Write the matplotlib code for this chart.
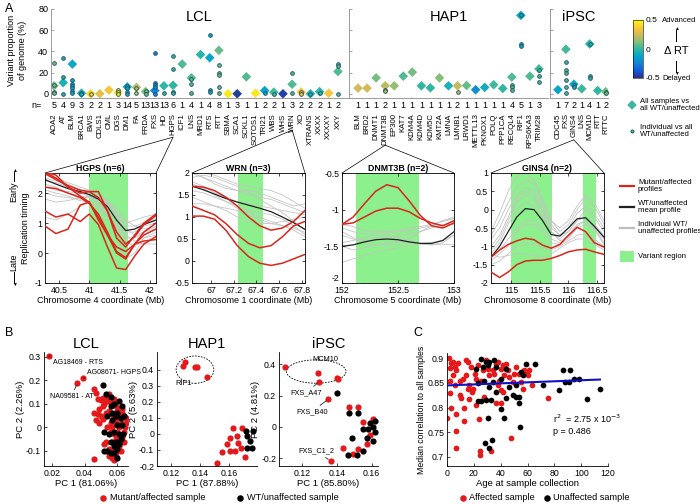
import numpy as np
import matplotlib.pyplot as plt
from matplotlib.colors import LinearSegmentedColormap, Normalize
from matplotlib.cm import ScalarMappable
from matplotlib.patches import ConnectionPatch, Ellipse, Rectangle
from matplotlib.lines import Line2D

plt.rcParams['font.family'] = ['Liberation Sans', 'DejaVu Sans']
plt.rcParams['axes.linewidth'] = 0.6
plt.rcParams['xtick.direction'] = 'in'
plt.rcParams['ytick.direction'] = 'in'
plt.rcParams['xtick.major.size'] = 2
plt.rcParams['ytick.major.size'] = 2
plt.rcParams['xtick.major.width'] = 0.5
plt.rcParams['ytick.major.width'] = 0.5
plt.rcParams['xtick.major.pad'] = 2
plt.rcParams['ytick.major.pad'] = 2

# ---------------- panel A top: variant proportion ----------------
lcl_names = ['AOA2', 'AT', 'BLM', 'BRCA1', 'BWS', 'CDLS1', 'CML', 'DGS', 'DM1', 'FA', 'FRDA', 'FXS',
             'HD', 'HGPS', 'ICF1', 'LNS', 'MRD1', 'RTS', 'RTT', 'SBMA', 'SCA1', 'SCKL1', 'SOTOS1',
             'TRI21', 'WBS', 'WHS', 'WRN', 'XO', 'XTRANS', 'XXXX', 'XXXXY', 'XXY']
lcl_n = [5, 4, 9, 3, 2, 2, 1, 3, 14, 5, 13, 13, 13, 6, 1, 4, 1, 4, 8, 1, 3, 1, 1, 2, 2, 1, 3, 2, 2, 2, 1, 2]
lcl_all = [7.5, 10.5, 28, 0.5, 0, 0, 3.5, 1, 6.5, 6, 2, 3, 7.5, 8, 28, 15, 37, 34, 41, 0, 0, 16, 0.5,
           3, 1.5, 0, 9, 1.5, 0, 2, 0.5, 21]
lcl_rt = [0.1, -0.05, -0.1, -0.05, 0.4, 0.3, 0.35, 0.45, -0.1, 0.2, 0.1, -0.25, 0.0, 0.0, 0.05, 0.05,
          -0.02, -0.12, 0.08, 0.45, -0.45, 0.05, 0.45, -0.12, 0.03, -0.45, 0.05, 0.35, -0.05, 0.0, 0.35, 0.05]
lcl_ind = [[29, 8, 2, 0.5], [34, 16, 0], [13, 9, 7, 5, 3, 1], [1, 0], [0], [], [], [4, 2, 0], [7, 5, 2, 0],
           [5, 1], [3, 0], [38, 10, 8, 6, 0], [1], [36, 23, 2, 1], [], [14, 9, 1], [], [55, 4, 2],
           [27, 20, 18, 6, 1], [], [0], [], [], [1], [0], [], [20, 1], [2, 0], [0], [1], [], [28, 26, 0]]

hap_names = ['BLM', 'BRD2', 'DNMT1', 'DNMT3B', 'EP300', 'KAT7', 'KDM4A', 'KDM4D', 'KDM5C', 'KMT2A',
             'LMNA', 'LMNB1', 'LRWD1', 'METTL13', 'PKNOX1', 'POLQ', 'PPP1CA', 'RECQL4', 'RIF1',
             'RPS6KA3', 'TRIM28']
hap_n = [1, 1, 1, 2, 1, 1, 1, 1, 1, 1, 1, 2, 1, 1, 1, 1, 1, 4, 5, 1, 3]
hap_all = [5.3, 5.3, 15, 7.5, 7.5, 16.6, 20.4, 7.5, 5.6, 15, 7.5, 7.5, 7.8, 3.8, 6, 8.5, 5, 15.7, 74,
           16.6, 23.5]
hap_rt = [0.25, 0.25, 0.1, 0.2, 0.15, 0.05, 0.1, 0.0, 0.0, 0.12, -0.05, 0.22, 0.08, -0.2, -0.08, 0.03,
          0.0, 0.05, -0.1, 0.05, 0.03]
hap_ind = [[], [], [], [4, 2.5], [], [], [], [], [], [], [], [2], [], [], [], [], [], [8, 6, 4],
           [74, 47, 45], [], [22, 17, 11]]

ips_names = ['CDC45', 'FXS', 'GINS4', 'LNS', 'MCM10', 'RTT', 'RTTC']
ips_n = [1, 7, 2, 1, 4, 1, 2]
ips_all = [3.8, 42, 9, 4.7, 47, 3, 2]
ips_rt = [-0.12, 0.03, -0.1, 0.02, -0.02, 0.0, 0.1]
ips_ind = [[], [30, 22, 20, 13, 6, 1], [8, 6], [], [47, 17, 15], [], [2, 1]]

# ---------------- panel A bottom: replication timing profiles ----------------
hgps_x = [40.27, 40.45, 40.65, 40.85, 41.0, 41.15, 41.3, 41.45, 41.6, 41.75, 41.9, 42.1]
hgps_red = [[2.65, 2.45, 2.25, 2.1, 2.05, 1.85, 1.4, 0.7, 0.3, 0.55, 0.95, 1.25],
            [2.7, 2.6, 2.2, 2.0, 2.05, 2.05, 1.4, 0.5, 0.2, 0.6, 1.0, 1.3],
            [2.2, 2.15, 2.0, 1.85, 1.65, 1.3, 0.7, 0.05, -0.15, 0.3, 0.7, 1.0],
            [1.4, 1.2, 1.3, 1.05, 1.3, 0.95, 0.2, -0.5, -0.55, -0.1, 0.3, 0.55],
            [0.9, 0.65, 0.8, 1.6, 1.7, 1.2, 0.6, 0.0, -0.2, 0.3, 0.6, 0.8],
            [2.7, 2.5, 2.2, 1.9, 1.7, 1.1, 0.6, 0.2, 0.05, 0.3, 0.4, 0.45]]
hgps_black = [2.45, 2.3, 2.15, 2.05, 1.95, 1.8, 1.55, 1.1, 0.75, 0.8, 0.95, 1.1]
hgps_grey = [[2.5, 2.4, 2.3, 2.1, 2.0, 1.9, 1.7, 1.3, 0.9, 0.9, 1.0, 1.15],
             [2.3, 2.2, 2.0, 1.9, 1.85, 1.7, 1.4, 1.0, 0.7, 0.7, 0.9, 1.0],
             [2.0, 1.9, 1.85, 1.8, 1.9, 1.8, 1.6, 1.2, 0.8, 0.6, 0.7, 0.9],
             [2.6, 2.5, 2.35, 2.2, 2.1, 2.0, 1.75, 1.35, 1.0, 1.1, 1.2, 1.3],
             [1.8, 1.7, 1.75, 1.85, 1.9, 1.75, 1.3, 0.8, 0.5, 0.5, 0.7, 0.8],
             [2.2, 2.1, 2.05, 2.0, 1.95, 1.85, 1.65, 1.3, 0.4, 0.2, 0.5, 0.7],
             [1.2, 1.1, 1.3, 1.55, 1.7, 1.6, 1.2, 0.6, -0.2, 0.0, 0.5, 0.6],
             [2.4, 2.35, 2.2, 2.0, 1.9, 1.8, 1.7, 1.5, 1.1, 0.9, 0.8, 0.85],
             [2.1, 2.0, 1.9, 1.75, 1.7, 1.5, 1.2, 0.9, 0.6, 0.4, 0.3, 0.3]]

wrn_x = [66.83, 66.93, 67.03, 67.13, 67.23, 67.33, 67.43, 67.53, 67.63, 67.73, 67.83]
wrn_red = [[1.7, 1.68, 1.6, 1.45, 1.25, 1.0, 0.8, 0.7, 0.75, 0.9, 1.15],
           [1.25, 1.15, 1.05, 0.85, 0.6, 0.4, 0.3, 0.35, 0.55, 0.8, 0.9],
           [1.02, 1.02, 0.95, 0.7, 0.35, 0.1, -0.05, -0.1, -0.05, 0.05, 0.15]]
wrn_black = [1.7, 1.62, 1.52, 1.42, 1.34, 1.27, 1.2, 1.12, 1.0, 0.87, 0.72]
wrn_grey = [[2.0, 1.9, 1.8, 1.7, 1.6, 1.5, 1.45, 1.4, 1.3, 1.2, 1.1],
            [1.9, 1.95, 1.9, 1.8, 1.7, 1.55, 1.4, 1.25, 1.1, 0.9, 0.7],
            [1.8, 1.7, 1.55, 1.45, 1.35, 1.3, 1.25, 1.2, 1.15, 1.1, 1.05],
            [1.6, 1.55, 1.45, 1.35, 1.25, 1.15, 1.1, 1.05, 0.95, 0.8, 0.6],
            [1.45, 1.35, 1.25, 1.2, 1.15, 1.1, 1.0, 0.9, 0.8, 0.7, 0.55],
            [2.0, 2.0, 1.95, 1.85, 1.75, 1.7, 1.65, 1.6, 1.5, 1.35, 1.2],
            [1.3, 1.3, 1.25, 1.15, 1.0, 0.9, 0.85, 0.85, 0.9, 0.95, 1.0],
            [1.75, 1.65, 1.5, 1.35, 1.2, 1.05, 0.95, 0.85, 0.8, 0.75, 0.65],
            [2.0, 1.9, 1.75, 1.65, 1.6, 1.6, 1.55, 1.45, 1.35, 1.25, 1.3]]

dnmt_x = [152.0, 152.1, 152.2, 152.3, 152.4, 152.5, 152.6, 152.7, 152.8, 152.9, 153.0]
dnmt_red = [[-1.2, -1.1, -0.92, -0.75, -0.66, -0.7, -0.88, -1.08, -1.22, -1.25, -1.18],
            [-1.2, -1.18, -1.1, -1.02, -0.98, -0.98, -1.03, -1.12, -1.18, -1.22, -1.15]]
dnmt_black = [-1.5, -1.48, -1.44, -1.41, -1.4, -1.41, -1.44, -1.46, -1.46, -1.42, -1.3]
dnmt_grey = [[-1.25, -1.3, -1.33, -1.33, -1.32, -1.3, -1.28, -1.25, -1.22, -1.15, -1.1],
             [-1.3, -1.38, -1.42, -1.4, -1.38, -1.36, -1.33, -1.3, -1.25, -1.2, -1.2],
             [-1.5, -1.55, -1.52, -1.48, -1.45, -1.43, -1.45, -1.47, -1.48, -1.47, -1.48],
             [-1.72, -1.67, -1.62, -1.58, -1.55, -1.52, -1.48, -1.46, -1.45, -1.42, -1.35],
             [-1.35, -1.4, -1.45, -1.48, -1.48, -1.46, -1.4, -1.3, -1.22, -1.15, -1.12],
             [-1.45, -1.42, -1.38, -1.36, -1.36, -1.38, -1.42, -1.46, -1.48, -1.45, -1.35],
             [-1.2, -1.23, -1.28, -1.3, -1.3, -1.28, -1.25, -1.23, -1.2, -1.16, -1.12]]

gins_x = [114.65, 114.8, 114.95, 115.1, 115.25, 115.4, 115.55, 115.7, 115.85, 116.0, 116.15, 116.3,
          116.45, 116.62]
gins_red = [[-1.3, -1.1, -0.95, -0.85, -0.78, -0.82, -0.97, -1.05, -0.95, -0.7, -0.48, -0.6, -0.9, -1.02],
            [-1.7, -1.85, -1.7, -1.5, -1.4, -1.38, -1.38, -1.33, -1.25, -1.15, -1.1, -1.08, -1.15, -1.22]]
gins_black = [-1.3, -1.0, -0.6, -0.2, 0.03, 0.0, -0.3, -0.68, -0.72, -0.5, -0.25, -0.22, -0.45, -0.75]
gins_grey = [[-0.6, -0.1, 0.5, 0.9, 1.0, 0.8, 0.3, -0.3, -0.5, -0.3, 0.1, 0.4, 0.2, -0.3],
             [-1.0, -0.7, -0.2, 0.3, 0.5, 0.4, 0.0, -0.5, -0.7, -0.5, -0.1, 0.1, -0.1, -0.5],
             [-1.2, -0.9, -0.4, 0.0, 0.2, 0.1, -0.2, -0.6, -0.8, -0.6, -0.3, -0.2, -0.4, -0.7],
             [-0.8, -0.5, 0.0, 0.4, 0.6, 0.5, 0.1, -0.4, -0.7, -0.6, -0.3, 0.0, -0.2, -0.6],
             [-1.3, -1.1, -0.8, -0.5, -0.3, -0.3, -0.5, -0.8, -0.9, -0.7, -0.4, -0.3, -0.5, -0.8],
             [-1.1, -0.8, -0.3, 0.2, 0.4, 0.3, -0.1, -0.6, -0.85, -0.75, -0.45, -0.3, -0.5, -0.9],
             [-1.5, -1.4, -1.2, -1.0, -0.9, -0.95, -1.05, -1.1, -1.0, -0.85, -0.7, -0.65, -0.8, -1.0],
             [-0.7, -0.3, 0.2, 0.6, 0.8, 0.7, 0.2, -0.3, -0.6, -0.4, 0.0, 0.3, 0.1, -0.4],
             [-1.4, -1.2, -1.0, -0.6, -0.4, -0.4, -0.6, -0.9, -0.95, -0.8, -0.5, -0.4, -0.55, -0.95],
             [-1.2, -1.3, -1.25, -1.2, -1.2, -1.25, -1.3, -1.2, -1.05, -0.9, -0.8, -0.8, -0.95, -1.1]]

# ---------------- panel B: PCA ----------------
lcl_red_x = [0.0182, 0.0393, 0.0355, 0.046, 0.047, 0.048, 0.050, 0.052, 0.054, 0.056, 0.057, 0.059, 0.061,
             0.062, 0.063, 0.064, 0.065, 0.065, 0.0645, 0.064, 0.063, 0.062, 0.061, 0.060, 0.059, 0.057,
             0.055, 0.058, 0.046, 0.048, 0.050, 0.047, 0.049, 0.051, 0.053, 0.055, 0.057, 0.058, 0.056,
             0.054, 0.056, 0.058, 0.057, 0.059, 0.060, 0.061, 0.062, 0.060, 0.061, 0.053, 0.055, 0.057,
             0.059, 0.046, 0.052, 0.051, 0.053, 0.055, 0.051, 0.049, 0.058, 0.060, 0.063, 0.062, 0.064,
             0.057, 0.059]
lcl_red_y = [0.303, 0.209, 0.189, 0.165, 0.145, 0.12, 0.115, 0.10, 0.11, 0.105, 0.095, 0.09, 0.08, 0.07,
             0.06, 0.05, 0.04, 0.02, 0.0, -0.02, -0.04, -0.06, -0.08, -0.10, -0.12, -0.13, -0.12, -0.14,
             0.06, 0.055, 0.05, 0.03, 0.02, 0.035, 0.06, 0.07, 0.055, 0.04, 0.02, 0.0, -0.02, -0.03,
             -0.06, -0.05, -0.02, 0.0, 0.02, 0.04, 0.06, -0.06, -0.09, -0.10, -0.08, -0.135, -0.07, 0.09,
             0.13, 0.14, 0.125, 0.08, 0.12, 0.07, 0.08, -0.1, -0.06, 0.0, 0.02]
lcl_blk_x = [0.051, 0.053, 0.056, 0.058, 0.060, 0.062, 0.063, 0.0635, 0.062, 0.061, 0.060, 0.058, 0.056,
             0.054, 0.052, 0.052, 0.056, 0.059, 0.061, 0.057, 0.059, 0.060, 0.058, 0.055, 0.064, 0.063,
             0.061, 0.057, 0.054, 0.056, 0.060, 0.058]
lcl_blk_y = [0.18, 0.14, 0.13, 0.10, 0.06, 0.04, 0.01, -0.03, -0.05, -0.07, -0.09, -0.11, -0.11, -0.10,
             -0.10, -0.02, -0.06, -0.06, -0.03, 0.03, 0.05, 0.01, -0.02, -0.03, 0.05, 0.09, 0.11, 0.06,
             0.05, 0.09, -0.13, -0.08]

hap_red_x = [0.1277, 0.1293, 0.136, 0.1374, 0.1443, 0.1512, 0.1546, 0.1585, 0.1603, 0.1626, 0.1654, 0.166,
             0.1684, 0.1677, 0.1707, 0.1638, 0.1603]
hap_red_y = [0.425, 0.445, 0.418, 0.414, 0.356, -0.18, -0.11, -0.066, -0.025, 0.038, -0.014, -0.056,
             0.038, -0.087, -0.146, -0.104, -0.108]
hap_blk_x = [0.1719, 0.1741, 0.1719, 0.1753, 0.1764, 0.1714]
hap_blk_y = [-0.014, -0.045, -0.087, -0.087, 0.017, 0.017]

ips_red_x = [0.1104, 0.1295, 0.140, 0.1409, 0.130, 0.1352, 0.1365, 0.147, 0.152, 0.1548, 0.159, 0.1571,
             0.1523, 0.1495, 0.1437, 0.1607]
ips_red_y = [0.387, 0.345, 0.315, 0.31, 0.289, 0.178, -0.218, 0.127, 0.127, 0.031, -0.051, -0.107,
             -0.14, -0.173, -0.133, 0.05]
ips_blk_x = [0.140, 0.147, 0.152, 0.1552, 0.158, 0.159, 0.1607, 0.1619, 0.1571, 0.1548, 0.1514, 0.1466,
             0.1485, 0.1619, 0.1607]
ips_blk_y = [0.215, 0.089, 0.089, -0.013, -0.013, 0.027, 0.0, 0.04, -0.073, -0.151, -0.178, -0.178,
             -0.07, -0.03, -0.09]

# ---------------- panel C: correlation vs age ----------------
aff_age = [0, 2, 2, 3.2, 4.4, 5.7, 6.9, 8.1, 3.2, 6.9, 6.9, 6.9, 9.4, 10.6, 13, 13, 14.3, 14.3, 15.5,
           16.7, 18, 19.2, 20.5, 21.7, 22.9, 24.2, 24.9, 24.9, 26.7, 27.9, 29.1, 30.4, 32.8, 34, 36.5,
           37.7, 39, 40.2, 41.5, 42.7, 45.2, 47.7, 48.9, 51.4, 53.8, 56.3, 58.8, 60, 63.7, 75.6, 1.5,
           2.5, 4.4, 5.7, 9.4, 11.8, 15.5, 16.7, 18.7, 21.7, 25.4, 31.6, 35.3, 37.7, 40.2, 41.5, 44,
           46.4, 50.1, 55, 57.5, 61.2, 40.2, 36.5]
aff_cor = [0.778, 0.853, 0.83, 0.89, 0.893, 0.883, 0.876, 0.89, 0.80, 0.786, 0.752, 0.718, 0.826, 0.82,
           0.80, 0.773, 0.896, 0.866, 0.838, 0.818, 0.883, 0.838, 0.869, 0.806, 0.886, 0.776, 0.711,
           0.703, 0.876, 0.822, 0.896, 0.879, 0.711, 0.876, 0.889, 0.845, 0.855, 0.835, 0.886, 0.866,
           0.876, 0.737, 0.852, 0.883, 0.869, 0.838, 0.873, 0.866, 0.845, 0.82, 0.90, 0.88, 0.866,
           0.845, 0.855, 0.859, 0.893, 0.845, 0.831, 0.859, 0.855, 0.866, 0.869, 0.893, 0.879, 0.831,
           0.889, 0.862, 0.869, 0.852, 0.876, 0.876, 0.81, 0.81]
unaff_age = [25.4, 29.1, 31.6, 35.3, 26.7, 30.4, 36.5, 27.9, 31.6, 34, 36.5, 22.9, 25.4, 29.1, 32.8, 30.4,
             28.6, 31.6, 33.5, 40.2, 42.7, 44, 48.9, 51.4, 53.8, 53.8, 54.4, 51.4, 55, 58.8, 56.3, 65.7,
             71.9, 83.5, 86.5, 91.6, 88, 91, 94.7, 98.4, 104.6, 113.7, 44, 46.4, 40.2, 21.7, 22.9]
unaff_cor = [0.898, 0.893, 0.893, 0.896, 0.883, 0.886, 0.883, 0.855, 0.842, 0.852, 0.831, 0.813, 0.813,
             0.816, 0.816, 0.779, 0.728, 0.718, 0.733, 0.798, 0.779, 0.82, 0.826, 0.822, 0.822, 0.81,
             0.76, 0.845, 0.873, 0.889, 0.866, 0.889, 0.845, 0.835, 0.876, 0.876, 0.852, 0.852, 0.859,
             0.859, 0.818, 0.838, 0.879, 0.842, 0.859, 0.879, 0.849]
fit_age = [0, 114]
fit_cor = [0.845, 0.857]

# ---------------------------------------------------------------------
W, H = 700, 504
fig = plt.figure(figsize=(7, 5.04), dpi=100)

def add_ax(l, t, r, b):
    return fig.add_axes([l / W, 1 - b / H, (r - l) / W, (b - t) / H])

def ftext(x, y, s, **kw):
    return fig.text(x / W, 1 - y / H, s, **kw)

cmap = LinearSegmentedColormap.from_list('parula', ['#352a87', '#0f5cdd', '#1481d6', '#06a4ca',
                                                    '#2eb7a4', '#87bf77', '#d1bb59', '#fec832', '#f9fb0e'])
norm = Normalize(-0.5, 0.5)
RED = '#e4191c'


def top_panel(ax, names, ns, allv, rts, ind, title, xlim, ylabels):
    x = np.arange(1, len(names) + 1)
    ax.scatter(x, allv, marker='D', s=24, c=rts, cmap=cmap, norm=norm, edgecolor='none', zorder=2)
    for i, d in enumerate(ind):
        if d:
            ax.scatter([x[i]] * len(d), d, s=7, color=cmap(norm(rts[i])), edgecolor='#1d4b5e',
                       lw=0.6, zorder=3)
    ax.set_xlim(*xlim)
    ax.set_ylim(-4, 80)
    ax.set_yticks([0, 20, 40, 60, 80])
    ax.set_xticks(x)
    ax.set_xticklabels(names, rotation=90, fontsize=5.6, va='top')
    ax.tick_params(axis='x', length=0, pad=11)
    ax.tick_params(axis='y', labelsize=6.5, labelleft=ylabels, color='0.5')
    for s in ['top', 'right']:
        ax.spines[s].set_visible(False)
    for s in ['left', 'bottom']:
        ax.spines[s].set_color('0.55')
    for xi, n in zip(x, ns):
        ax.text(xi, -0.08, str(n), transform=ax.get_xaxis_transform(), ha='center', va='center',
                fontsize=6.5)
    ax.text(0.5, 0.99, title, transform=ax.transAxes, ha='center', va='top', fontsize=10.5)


ax_lcl = add_ax(51, 9, 348, 98)
top_panel(ax_lcl, lcl_names, lcl_n, lcl_all, lcl_rt, lcl_ind, 'LCL', (0.67, 33.1), True)
ax_hap = add_ax(349, 9, 548, 98)
top_panel(ax_hap, hap_names, hap_n, hap_all, hap_rt, hap_ind, 'HAP1', (0, 22), False)
ax_ips = add_ax(550, 9, 608, 98)
top_panel(ax_ips, ips_names, ips_n, ips_all, ips_rt, ips_ind, 'iPSC', (0, 7.3), False)

ftext(5, 9, 'A', fontsize=9, va='center')
ftext(17, 50, 'Variant proportion\nof genome (%)', rotation=90, ha='center', va='center', fontsize=6.5)
ftext(37, 105, 'n=', ha='center', va='center', fontsize=6.5)

# colorbar and legend for top panel
cax = add_ax(633, 20, 643, 78)
cb = fig.colorbar(ScalarMappable(norm=norm, cmap=cmap), cax=cax, ticks=[-0.5, 0, 0.5])
cb.ax.set_yticklabels(['-0.5', '0', '0.5'])
cb.ax.tick_params(labelsize=6, length=0, pad=2)
cb.outline.set_linewidth(0.4)
ftext(662, 21, 'Advanced', fontsize=5.5, va='center')
ftext(662, 79, 'Delayed', fontsize=5.5, va='center')
ftext(676, 51, '\u0394 RT', fontsize=8, ha='center', va='center')
fig.add_artist(Line2D([676 / W] * 2, [1 - 41 / H, 1 - 30 / H], color='k', lw=0.7))
fig.add_artist(Line2D([676 / W] * 2, [1 - 61 / H, 1 - 72 / H], color='k', lw=0.7))
ftext(676, 29, '\u25b2', fontsize=3.5, ha='center', va='center')
ftext(676, 73, '\u25bc', fontsize=3.5, ha='center', va='center')

key = fig.add_axes([0, 0, 1, 1], zorder=5)
key.set_xlim(0, W)
key.set_ylim(H, 0)
key.axis('off')
key.scatter([632], [105], marker='D', s=24, color=cmap(norm(0.02)), edgecolor='none')
ftext(640, 105, 'All samples vs\nall WT/unaffected', fontsize=5.5, va='center', linespacing=1.1)
key.scatter([632], [131], s=5, color=cmap(norm(0.02)), edgecolor='#1d4b5e', lw=0.6)
ftext(640, 131, 'Individual vs all\nWT/unaffected', fontsize=5.5, va='center', linespacing=1.1)

# ---------------- panel A bottom ----------------
GREEN = '#8cf08c'


def rt_panel(ax, xs, reds, black, greys, spans, xlim, ylim, xticks, yticks, title, xlabel):
    for s in spans:
        ax.axvspan(s[0], s[1], color=GREEN, lw=0, zorder=0)
    for g in greys:
        ax.plot(xs, g, color='#c4c4c4', lw=0.6, zorder=1)
    ax.plot(xs, black, color='#202020', lw=0.9, zorder=2)
    for r in reds:
        ax.plot(xs, r, color='#d9261c', lw=1.1, zorder=3)
    ax.set_xlim(*xlim)
    ax.set_ylim(*ylim)
    ax.set_xticks(xticks)
    ax.set_xticklabels([f'{t:g}' for t in xticks])
    ax.set_yticks(yticks)
    ax.set_yticklabels([f'{t:g}' for t in yticks])
    ax.tick_params(labelsize=6.3, top=True, right=True)
    ax.set_title(title, fontsize=6.3, fontweight='bold', pad=1.5)
    ax.set_xlabel(xlabel, fontsize=6.5, labelpad=1)


ax_hg = add_ax(45, 173, 156, 283)
rt_panel(ax_hg, hgps_x, hgps_red, hgps_black, hgps_grey, [(41.0, 41.64)], (40.27, 42.1), (-1, 2.67),
         [40.5, 41, 41.5, 42], [-1, 0, 1, 2], 'HGPS (n=6)', 'Chromosome 4 coordinate (Mb)')
ax_wr = add_ax(192, 173, 305, 283)
rt_panel(ax_wr, wrn_x, wrn_red, wrn_black, wrn_grey, [(67.24, 67.46)], (66.83, 67.83), (-0.5, 2),
         [67, 67.2, 67.4, 67.6, 67.8], [-0.5, 0, 0.5, 1, 1.5, 2], 'WRN (n=3)',
         'Chromosome 1 coordinate (Mb)')
ax_dn = add_ax(342, 173, 454, 283)
rt_panel(ax_dn, dnmt_x, dnmt_red, dnmt_black, dnmt_grey, [(152.125, 152.69)], (152, 153), (-2, -0.5),
         [152, 152.5, 153], [-2, -1.5, -1, -0.5], 'DNMT3B (n=2)', 'Chromosome 5 coordinate (Mb)')
ax_dn.get_yticklabels()[0].set_va('bottom')
ax_gi = add_ax(491, 173, 604, 283)
rt_panel(ax_gi, gins_x, gins_red, gins_black, gins_grey, [(115.0, 115.72), (116.26, 116.48)],
         (114.65, 116.62), (-2, 1), [115, 115.5, 116, 116.5], [-2, -1.5, -1, -0.5, 0, 0.5, 1],
         'GINS4 (n=2)', 'Chromosome 8 coordinate (Mb)')

ftext(25, 228, 'Replication timing', rotation=90, ha='center', va='center', fontsize=6.5)
ftext(14, 192, 'Early', rotation=90, ha='center', va='center', fontsize=6.5)
ftext(14, 262, 'Late', rotation=90, ha='center', va='center', fontsize=6.5)
fig.add_artist(Line2D([14 / W] * 2, [1 - 181 / H, 1 - 172 / H], color='k', lw=0.7))
fig.add_artist(Line2D([14 / W] * 2, [1 - 272 / H, 1 - 283 / H], color='k', lw=0.7))
ftext(14, 171, '\u25b2', fontsize=3.5, ha='center', va='center')
ftext(14, 284, '\u25bc', fontsize=3.5, ha='center', va='center')

# connectors from the category names to the zoomed profiles
for top_ax, idx, yoff, bot_ax in [(ax_lcl, lcl_names.index('HGPS') + 1, -0.44, ax_hg),
                                  (ax_lcl, lcl_names.index('WRN') + 1, -0.36, ax_wr),
                                  (ax_hap, hap_names.index('DNMT3B') + 1, -0.53, ax_dn),
                                  (ax_ips, ips_names.index('GINS4') + 1, -0.47, ax_gi)]:
    for cx in (0, 1):
        con = ConnectionPatch(xyA=(idx, yoff), coordsA=top_ax.get_xaxis_transform(), xyB=(cx, 1),
                              coordsB=bot_ax.transAxes, color='k', lw=0.5)
        fig.add_artist(con)

# line legend
for y, col, txt in [(186, '#d9261c', 'Mutant/affected\nprofiles'),
                    (207, '#202020', 'WT/unaffected\nmean profile'),
                    (228, '#bdbdbd', 'Individual WT/\nunaffected profiles')]:
    key.plot([620, 634], [y, y], color=col, lw=1.6)
    ftext(638, y, txt, fontsize=5.6, va='center', linespacing=1.1)
key.add_patch(Rectangle((620, 251), 14, 11, color=GREEN, lw=0))
ftext(638, 256, 'Variant region', fontsize=5.6, va='center')

# ---------------- panel B ----------------


def pc_panel(ax, rx, ry, bx, by, xlim, ylim, xticks, yticks, title, xlabel, ylabel):
    ax.scatter(rx, ry, s=20, color=RED, lw=0, zorder=2)
    ax.scatter(bx, by, s=20, color='k', lw=0, zorder=3)
    ax.set_xlim(*xlim)
    ax.set_ylim(*ylim)
    ax.set_xticks(xticks)
    ax.set_yticks(yticks)
    ax.set_yticklabels([f'{t:g}' for t in yticks])
    for s in ['top', 'right']:
        ax.spines[s].set_visible(False)
    ax.tick_params(labelsize=6.3)
    ax.set_title(title, fontsize=10.5, pad=3)
    ax.set_xlabel(xlabel, fontsize=6.8, labelpad=1)
    ax.set_ylabel(ylabel, fontsize=6.8, labelpad=1)


ax_b1 = add_ax(44, 352, 128, 466)
pc_panel(ax_b1, lcl_red_x, lcl_red_y, lcl_blk_x, lcl_blk_y, (0.0153, 0.0665), (-0.164, 0.32),
         [0.02, 0.04, 0.06], [-0.1, 0, 0.1, 0.2, 0.3], 'LCL', 'PC 1 (81.06%)', 'PC 2 (2.26%)')
ann = dict(arrowstyle='-', lw=0.5, color='k', shrinkA=0, shrinkB=2)
ax_b1.annotate('AG18469 - RTS', xy=(lcl_red_x[0], lcl_red_y[0]), xytext=(0.0208, 0.277), fontsize=5,
               va='center', arrowprops=ann)
ax_b1.annotate('AG08671- HGPS', xy=(lcl_red_x[1], lcl_red_y[1]), xytext=(0.0418, 0.234), fontsize=5,
               va='center', arrowprops=ann)
ax_b1.annotate('NA09581 - AT', xy=(lcl_red_x[2], lcl_red_y[2]), xytext=(0.0325, 0.133), fontsize=5,
               va='center', ha='center', arrowprops=ann)

ax_b2 = add_ax(157, 352, 257, 466)
pc_panel(ax_b2, hap_red_x, hap_red_y, hap_blk_x, hap_blk_y, (0.11, 0.179), (-0.2, 0.51),
         [0.12, 0.14, 0.16], [-0.2, -0.1, 0, 0.1, 0.2, 0.3, 0.4], 'HAP1', 'PC 1 (87.88%)',
         'PC 2 (5.63%)')
ax_b2.add_patch(Ellipse((0.1362, 0.40), 0.026, 0.17, fill=False, ls=(0, (2, 1.5)), lw=0.6))
ax_b2.text(0.1286, 0.312, 'RIF1', fontsize=5.5, ha='center', va='center')

ax_b3 = add_ax(279, 352, 378, 466)
pc_panel(ax_b3, ips_red_x, ips_red_y, ips_blk_x, ips_blk_y, (0.107, 0.1636), (-0.25, 0.48),
         [0.12, 0.14, 0.16], [-0.2, 0, 0.2, 0.4], 'iPSC', 'PC 1 (85.80%)', 'PC 2 (4.81%)')
ax_b3.add_patch(Ellipse((0.1283, 0.355), 0.034, 0.15, fill=False, ls=(0, (2, 1.5)), lw=0.6))
ax_b3.text(0.1333, 0.435, 'MCM10', fontsize=5.3, ha='center', va='center')
ax_b3.annotate('FXS_A47', xy=(ips_red_x[4], ips_red_y[4]), xytext=(0.1224, 0.22), fontsize=5.3,
               va='center', ha='center', arrowprops=ann)
ax_b3.annotate('FXS_B40', xy=(ips_red_x[5], ips_red_y[5]), xytext=(0.1257, 0.098), fontsize=5.3,
               va='center', ha='center', arrowprops=ann)
ax_b3.annotate('FXS_C1_2', xy=(ips_red_x[6], ips_red_y[6]), xytext=(0.1285, -0.155), fontsize=5.3,
               va='center', ha='center', arrowprops=ann)

ftext(5, 333, 'B', fontsize=9, va='center')
key.scatter([103], [498], s=22, color=RED, lw=0)
ftext(110, 498, 'Mutant/affected sample', fontsize=6.6, va='center')
key.scatter([240], [498], s=22, color='k', lw=0)
ftext(247, 498, 'WT/unaffected sample', fontsize=6.6, va='center')

# ---------------- panel C ----------------
ax_c = add_ax(447, 353, 608, 466)
ax_c.scatter(aff_age, aff_cor, s=17, color=RED, lw=0, zorder=2)
ax_c.scatter(unaff_age, unaff_cor, s=17, color='k', lw=0, zorder=3)
ax_c.plot(fit_age, fit_cor, color='#1010c8', lw=1.5, zorder=4)
ax_c.set_xlim(0, 120)
ax_c.set_ylim(0.681, 0.911)
ax_c.set_xticks([0, 20, 40, 60, 80, 100, 120])
ax_c.set_yticks([0.7, 0.75, 0.8, 0.85, 0.9])
ax_c.set_yticklabels(['0.7', '0.75', '0.8', '0.85', '0.9'])
for s in ['top', 'right']:
    ax_c.spines[s].set_visible(False)
ax_c.tick_params(labelsize=6.3)
ax_c.set_xlabel('Age at sample collection', fontsize=6.8, labelpad=1)
ax_c.set_ylabel('Median correlation to all samples', fontsize=6.3, labelpad=1)
ax_c.text(79, 0.766, 'r$^2$  = 2.75 x 10$^{-3}$\np = 0.486', fontsize=6.5, va='center',
          linespacing=1.3)

ftext(413, 333, 'C', fontsize=9, va='center')
key.scatter([463], [498], s=22, color=RED, lw=0)
ftext(469, 498, 'Affected sample', fontsize=6.6, va='center')
key.scatter([547], [498], s=22, color='k', lw=0)
ftext(553, 498, 'Unaffected sample', fontsize=6.6, va='center')

fig.savefig('out.png', dpi=100)
